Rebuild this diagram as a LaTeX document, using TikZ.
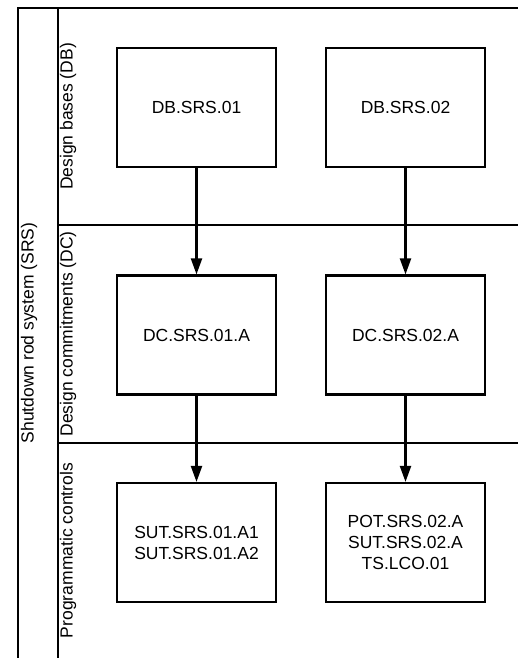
\documentclass[tikz,border=0pt]{standalone}
\usepackage{fontspec}
\setmainfont{Liberation Sans}
\usetikzlibrary{arrows.meta}
\begin{document}
\begin{tikzpicture}[x=1pt,y=-1pt,
  every node/.style={font=\fontsize{17.5}{21}\selectfont},
  box/.style={draw,line width=2.2pt,minimum width=159pt,minimum height=119pt,inner sep=0pt,align=center},
  lane/.style={line width=2.2pt},
  lbl/.style={rotate=90,inner sep=0pt,anchor=center},
  arr/.style={line width=2.2pt,-{Triangle[length=16pt,width=11pt]}}]
\useasboundingbox (0,0) rectangle (518,658);
\draw[lane] (18,658) -- (18,8) -- (518,8);
\draw[lane] (58,8) -- (58,658);
\draw[lane] (58,225) -- (518,225);
\draw[lane] (58,443) -- (518,443);
\node[lbl] (pool) at (29,333) {Shutdown rod system (SRS)};
\node[lbl] (l1) at (68,116.5) {Design bases (DB)};
\node[lbl] (l2) at (68,334) {Design commitments (DC)};
\node[lbl] (l3) at (68,550.5) {Programmatic controls};
\node[box] (db1) at (196.5,107.5) {DB.SRS.01};
\node[box] (db2) at (405.5,107.5) {DB.SRS.02};
\node[box] (dc1) at (196.5,335) {DC.SRS.01.A};
\node[box] (dc2) at (405.5,335) {DC.SRS.02.A};
\node[box] (pc1) at (196.5,542.5) {SUT.SRS.01.A1\\SUT.SRS.01.A2};
\node[box] (pc2) at (405.5,542.5) {POT.SRS.02.A\\SUT.SRS.02.A\\TS.LCO.01};
\draw[arr] (db1) -- (dc1);
\draw[arr] (db2) -- (dc2);
\draw[arr] (dc1) -- (pc1);
\draw[arr] (dc2) -- (pc2);
\end{tikzpicture}
\end{document}
